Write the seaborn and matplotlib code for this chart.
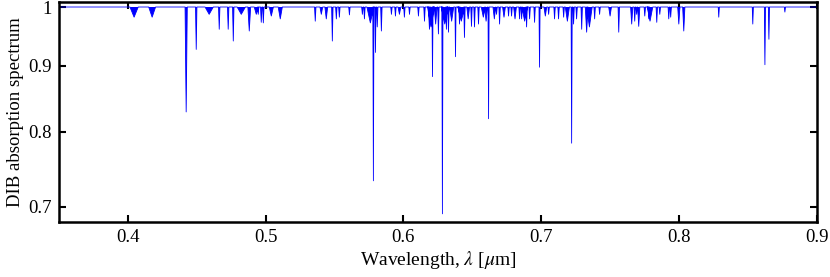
import numpy as np
import pandas as pd
import matplotlib
matplotlib.use("Agg")
import matplotlib.pyplot as plt
import seaborn as sns

# DIB line list: centre [um], minimum of the profile, half width [um]
centres = [0.4045, 0.4176, 0.4423, 0.4496, 0.4590, 0.4663, 0.4728, 0.4765, 0.4823, 0.4881,
           0.4932, 0.4946, 0.4968, 0.4983, 0.5041, 0.5106, 0.5360, 0.5404, 0.5440, 0.5484,
           0.5513, 0.5535, 0.5608, 0.5702, 0.5717, 0.5760, 0.5782, 0.5797, 0.5810, 0.5840,
           0.5913, 0.5942, 0.5971, 0.6007, 0.6044, 0.6109, 0.6153, 0.6189, 0.6200, 0.6211,
           0.6234, 0.6254, 0.6283, 0.6300, 0.6312, 0.6327, 0.6350, 0.6378, 0.6407, 0.6420,
           0.6443, 0.6470, 0.6494, 0.6516, 0.6545, 0.6580, 0.6600, 0.6618, 0.6660, 0.6676,
           0.6698, 0.6730, 0.6763, 0.6785, 0.6810, 0.6843, 0.6858, 0.6880, 0.6894, 0.6916,
           0.6952, 0.6988, 0.7030, 0.7054, 0.7097, 0.7126, 0.7163, 0.7190, 0.7221, 0.7235,
           0.7257, 0.7294, 0.7330, 0.7350, 0.7388, 0.7424, 0.7500, 0.7563, 0.7657, 0.7679,
           0.7693, 0.7708, 0.7752, 0.7781, 0.7790, 0.7839, 0.7861, 0.7926, 0.7940, 0.7999,
           0.8035, 0.8289, 0.8536, 0.8624, 0.8653, 0.8769]
minima = [0.982, 0.982, 0.829, 0.927, 0.987, 0.961, 0.961, 0.941, 0.987, 0.958,
          0.987, 0.987, 0.973, 0.972, 0.984, 0.979, 0.975, 0.987, 0.979, 0.941,
          0.979, 0.982, 0.986, 0.987, 0.979, 0.972, 0.733, 0.922, 0.965, 0.958,
          0.987, 0.984, 0.987, 0.982, 0.987, 0.984, 0.975, 0.961, 0.965, 0.883,
          0.970, 0.953, 0.691, 0.970, 0.961, 0.956, 0.975, 0.915, 0.970, 0.975,
          0.947, 0.979, 0.966, 0.965, 0.970, 0.982, 0.975, 0.819, 0.979, 0.987,
          0.970, 0.982, 0.984, 0.984, 0.979, 0.979, 0.979, 0.975, 0.965, 0.979,
          0.973, 0.898, 0.984, 0.987, 0.979, 0.979, 0.982, 0.975, 0.784, 0.970,
          0.979, 0.961, 0.956, 0.965, 0.979, 0.987, 0.984, 0.956, 0.970, 0.975,
          0.987, 0.966, 0.984, 0.979, 0.975, 0.973, 0.987, 0.979, 0.982, 0.970,
          0.958, 0.982, 0.970, 0.902, 0.944, 0.991]
halfwidths = [0.0030, 0.0025, 0.0008, 0.0005, 0.0030, 0.0005, 0.0005, 0.0005, 0.0030, 0.0010,
              0.0015, 0.0005, 0.0005, 0.0005, 0.0015, 0.0015, 0.0005, 0.0010, 0.0010, 0.0005,
              0.0005, 0.0005, 0.0005, 0.0005, 0.0005, 0.0025, 0.0004, 0.0004, 0.0005, 0.0005,
              0.0005, 0.0005, 0.0010, 0.0005, 0.0005, 0.0005, 0.0005, 0.0008, 0.0025, 0.0004,
              0.0010, 0.0005, 0.0004, 0.0025, 0.0005, 0.0005, 0.0015, 0.0004, 0.0005, 0.0025,
              0.0005, 0.0010, 0.0005, 0.0005, 0.0005, 0.0015, 0.0010, 0.0004, 0.0010, 0.0005,
              0.0005, 0.0010, 0.0005, 0.0005, 0.0010, 0.0005, 0.0005, 0.0020, 0.0005, 0.0005,
              0.0005, 0.0004, 0.0010, 0.0005, 0.0005, 0.0005, 0.0005, 0.0015, 0.0004, 0.0005,
              0.0005, 0.0005, 0.0010, 0.0020, 0.0005, 0.0005, 0.0010, 0.0005, 0.0008, 0.0005,
              0.0005, 0.0008, 0.0005, 0.0005, 0.0020, 0.0005, 0.0005, 0.0005, 0.0005, 0.0008,
              0.0008, 0.0004, 0.0004, 0.0004, 0.0004, 0.0004]

lam_min, lam_max = 0.35, 0.9
continuum = 1.0

yticks = [0.7, 0.8, 0.9, 1.0]
ytick_labels = ["0.7", "0.8", "0.9", "1"]
xticks = [0.4, 0.5, 0.6, 0.7, 0.8, 0.9]
xtick_labels = ["0.4", "0.5", "0.6", "0.7", "0.8", "0.9"]

# polyline of the spectrum: continuum with a triangular dip for each band
lines = pd.DataFrame({"c": centres, "f": minima, "w": halfwidths}).sort_values("c")
xs = [lam_min]
ys = [continuum]
for c, f, w in zip(lines["c"], lines["f"], lines["w"]):
    xs += [c - w, c, c + w]
    ys += [continuum, f, continuum]
xs.append(lam_max)
ys.append(continuum)
spec = pd.DataFrame({"wavelength": xs, "flux": ys})

sns.set_style("ticks")
plt.rcParams["font.family"] = ["Liberation Serif", "DejaVu Serif"]
plt.rcParams["mathtext.fontset"] = "stix"
plt.rcParams["text.color"] = "black"
plt.rcParams["axes.labelcolor"] = "black"

fig = plt.figure(figsize=(8.3, 2.77), dpi=100)
ax = fig.add_axes([0.0711, 0.1986, 0.9129, 0.7942])

ax.fill(spec["wavelength"], spec["flux"], color="#0000ff", lw=0)
sns.lineplot(data=spec, x="wavelength", y="flux", sort=False, estimator=None,
             color="#0000ff", lw=0.6, ax=ax)

ax.set_yscale("log")
ax.set_xlim(lam_min, lam_max)
ax.set_ylim(0.681, 1.009)
ax.set_yticks(yticks)
ax.set_yticklabels(ytick_labels)
ax.minorticks_off()
ax.set_xticks(xticks)
ax.set_xticklabels(xtick_labels)

for s in ax.spines.values():
    s.set_linewidth(1.8)
    s.set_color("black")
ax.tick_params(direction="in", length=5, width=1.5, top=True, right=True,
               labelsize=13.5, colors="black", pad=5)

ax.set_xlabel(r"Wavelength, $\lambda$ [$\mu$m]", fontsize=14, labelpad=2)
ax.set_ylabel("DIB absorption spectrum", fontsize=13.5, labelpad=3)

fig.savefig("out.png", dpi=100)
